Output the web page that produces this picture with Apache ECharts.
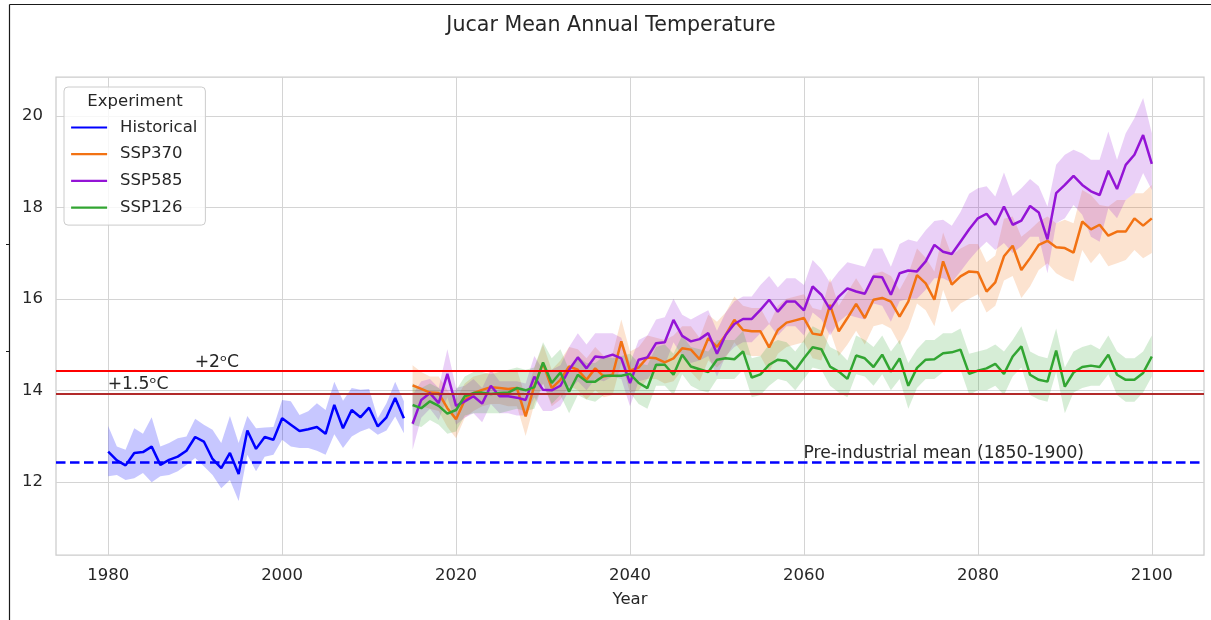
<!DOCTYPE html>
<html><head><meta charset="utf-8">
<script src="https://cdn.jsdelivr.net/npm/echarts@6/dist/echarts.min.js"></script>
<style>html,body{margin:0;padding:0;background:#fff}#c{width:1211px;height:620px}</style>
</head><body><div id="c"></div><script>
// ---------------- data ----------------
const histStart = 1980;
const sspStart = 2015;
const xTicks = [1980, 2000, 2020, 2040, 2060, 2080, 2100];
const yTicks = [12, 14, 16, 18, 20];
const preIndustrial = 12.42;
const refOffsets = [2, 1.5];

const histMean = [12.66,12.47,12.36,12.63,12.65,12.77,12.37,12.48,12.55,12.68,
  12.98,12.88,12.50,12.30,12.63,12.17,13.12,12.72,12.98,12.92,
  13.39,13.25,13.11,13.15,13.20,13.05,13.68,13.17,13.57,13.41,
  13.62,13.21,13.41,13.83,13.39];
const histUpper = [13.22,12.77,12.70,13.17,13.05,13.41,12.77,12.85,12.95,12.99,
  13.38,13.25,13.14,12.85,13.44,12.85,13.44,13.17,13.19,13.20,
  13.79,13.76,13.46,13.54,13.72,13.57,14.19,13.77,14.05,14.01,
  14.03,13.39,13.72,14.19,13.76];
const histLower = [12.12,12.15,12.04,12.08,12.19,11.99,12.12,12.15,12.23,12.37,
  12.52,12.34,12.15,11.86,12.04,11.58,12.59,12.23,12.55,12.59,
  12.92,12.77,12.74,12.74,12.68,12.59,13.04,12.74,12.99,13.10,
  13.17,13.03,13.12,13.43,13.06];

const ssp370Mean = [14.11,14.03,13.95,13.94,13.61,13.37,13.79,13.94,14.01,14.07,
  14.05,14.03,14.05,13.43,14.10,14.59,14.05,14.23,14.52,14.45,
  14.23,14.48,14.30,14.34,15.07,14.43,14.50,14.72,14.70,14.61,
  14.70,14.92,14.89,14.68,15.14,14.95,15.21,15.54,15.32,15.29,
  15.29,14.94,15.32,15.48,15.53,15.58,15.24,15.21,15.87,15.29,
  15.58,15.89,15.58,15.98,16.02,15.94,15.61,15.94,16.52,16.34,
  15.98,16.82,16.31,16.49,16.60,16.58,16.16,16.36,16.93,17.16,
  16.63,16.89,17.18,17.27,17.13,17.11,17.01,17.69,17.52,17.62,
  17.38,17.47,17.47,17.76,17.60,17.76];
const ssp370Upper = [14.55,14.4,14.3,14.3,14.0,13.8,14.15,14.3,14.35,14.4,
  14.4,14.4,14.45,13.85,14.5,15.0,14.45,14.65,14.95,14.9,
  14.7,14.95,14.75,14.8,15.55,14.85,14.95,15.2,15.15,15.1,
  15.2,15.4,15.4,15.15,15.65,15.5,15.7,16.05,15.85,15.8,
  15.8,15.45,15.85,16.0,16.05,16.1,15.8,15.75,16.45,15.85,
  16.15,16.45,16.15,16.55,16.6,16.5,16.2,16.55,17.1,16.9,
  16.6,17.45,16.95,17.1,17.2,17.2,16.8,16.95,17.75,17.8,
  17.36,17.51,17.69,17.8,17.65,17.73,17.65,18.38,18.27,18.05,
  18.02,18.16,18.16,18.31,18.31,18.49];
const ssp370Lower = [13.7,13.65,13.6,13.55,13.2,12.95,13.4,13.55,13.65,13.7,
  13.7,13.65,13.65,13.0,13.7,14.15,13.65,13.8,14.1,14.0,
  13.8,14.0,13.85,13.9,14.6,13.95,14.0,14.25,14.25,14.15,
  14.2,14.45,14.4,14.2,14.65,14.5,14.7,15.05,14.8,14.75,
  14.75,14.4,14.8,14.95,15.0,15.05,14.7,14.65,15.3,14.75,
  15.0,15.3,15.0,15.4,15.45,15.35,15.0,15.35,15.9,15.75,
  15.4,16.2,15.7,15.9,16.0,16.1,15.7,15.85,16.4,16.5,
  16.02,16.27,16.63,16.78,16.56,16.45,16.38,17.07,16.78,17.0,
  16.71,16.78,16.85,17.07,16.89,17.0];

const ssp585Mean = [13.27,13.79,13.94,13.72,14.36,13.66,13.76,13.87,13.71,14.10,
  13.87,13.87,13.84,13.79,14.30,14.01,14.00,14.10,14.45,14.72,
  14.48,14.74,14.72,14.78,14.70,14.16,14.67,14.72,15.03,15.05,
  15.54,15.19,15.07,15.12,15.25,14.80,15.21,15.45,15.56,15.56,
  15.76,15.98,15.72,15.94,15.94,15.75,16.27,16.09,15.77,16.05,
  16.23,16.16,16.11,16.49,16.47,16.09,16.56,16.62,16.60,16.82,
  17.18,17.03,16.98,17.25,17.52,17.76,17.86,17.62,18.02,17.62,
  17.71,18.03,17.89,17.30,18.31,18.49,18.69,18.49,18.35,18.27,
  18.80,18.40,18.93,19.15,19.58,18.95];
const ssp585Upper = [13.9,14.2,14.25,14.05,14.9,14.05,14.1,14.25,14.05,14.45,
  14.2,14.2,14.2,14.15,14.75,14.45,14.45,14.55,14.95,15.25,
  15.0,15.25,15.25,15.25,15.15,14.6,15.1,15.2,15.55,15.6,
  16.0,15.65,15.55,15.65,15.75,15.3,15.7,15.95,16.05,16.05,
  16.3,16.5,16.25,16.45,16.45,16.3,16.85,16.65,16.35,16.6,
  16.8,16.75,16.7,17.1,17.1,16.7,17.2,17.3,17.25,17.5,
  17.7,17.73,17.6,17.9,18.3,18.42,18.46,18.24,18.76,18.25,
  18.42,18.62,18.46,18.02,18.93,19.15,19.26,19.18,19.04,19.04,
  19.66,19.04,19.62,19.95,20.39,19.62];
const ssp585Lower = [12.7,13.4,13.6,13.35,13.85,13.25,13.4,13.5,13.3,13.7,
  13.5,13.5,13.45,13.45,13.85,13.55,13.55,13.65,14.0,14.2,
  14.0,14.25,14.2,14.3,14.25,13.65,14.2,14.25,14.5,14.55,
  15.05,14.75,14.6,14.65,14.75,14.3,14.75,14.95,15.05,15.05,
  15.25,15.45,15.2,15.4,15.4,15.2,15.7,15.55,15.2,15.5,
  15.65,15.6,15.55,15.9,15.85,15.5,15.95,16.0,16.0,16.2,
  16.45,16.45,16.35,16.6,16.85,17.07,17.25,17.07,17.22,17.0,
  17.15,17.36,17.36,16.56,17.65,17.76,18.05,17.84,17.36,17.25,
  17.98,17.76,18.16,18.31,18.75,18.38];

const ssp126Mean = [13.68,13.61,13.76,13.66,13.49,13.57,13.87,13.94,13.95,13.92,
  13.94,13.95,14.05,14.00,14.07,14.61,14.16,14.39,13.97,14.34,
  14.19,14.19,14.32,14.32,14.32,14.36,14.16,14.05,14.56,14.56,
  14.34,14.78,14.52,14.46,14.40,14.67,14.70,14.68,14.85,14.28,
  14.35,14.56,14.67,14.64,14.44,14.70,14.94,14.90,14.52,14.41,
  14.25,14.76,14.70,14.51,14.78,14.41,14.70,14.10,14.49,14.67,
  14.68,14.81,14.83,14.89,14.36,14.43,14.48,14.58,14.36,14.74,
  14.96,14.34,14.23,14.19,14.87,14.08,14.39,14.51,14.54,14.51,
  14.78,14.34,14.23,14.23,14.38,14.74];
const ssp126Upper = [14.15,14.05,14.15,14.05,13.9,14.0,14.3,14.4,14.4,14.35,
  14.4,14.45,14.5,14.45,14.5,15.05,14.7,14.9,14.45,14.75,
  14.6,14.6,14.75,14.7,14.75,14.8,14.6,14.55,14.95,15.0,
  14.8,15.2,14.95,14.9,14.85,15.1,15.1,15.1,15.3,14.7,
  14.75,15.0,15.1,15.05,14.85,15.1,15.4,15.3,14.95,14.85,
  14.65,15.2,15.1,14.95,15.2,14.85,15.1,14.6,14.9,15.1,
  15.1,15.25,15.25,15.35,14.8,14.85,14.9,15.0,14.85,15.1,
  15.4,14.85,14.75,14.7,15.35,14.5,14.85,14.95,15.0,14.9,
  15.2,14.85,14.7,14.7,14.85,15.2];
const ssp126Lower = [13.25,13.2,13.35,13.25,13.05,13.1,13.45,13.5,13.5,13.5,
  13.5,13.55,13.6,13.55,13.6,14.15,13.7,13.9,13.5,13.9,
  13.8,13.75,13.9,13.9,13.9,13.95,13.7,13.6,14.1,14.1,
  13.9,14.35,14.1,14.0,13.95,14.25,14.25,14.25,14.45,13.85,
  13.9,14.1,14.25,14.2,14.0,14.25,14.5,14.45,14.1,13.95,
  13.85,14.35,14.3,14.1,14.35,14.0,14.25,13.6,14.05,14.25,
  14.25,14.4,14.4,14.45,13.9,14.0,14.0,14.1,13.9,14.3,
  14.5,13.9,13.8,13.75,14.4,13.5,13.95,14.05,14.1,14.1,
  14.35,13.9,13.75,13.75,13.95,14.3];

// ---------------- styling ----------------
const FONT = 'DejaVu Sans';
const TXT = '#262626';
const C_HIST = '#0000ff', C_370 = '#f27213', C_585 = '#9414d6', C_126 = '#32a532';

function rgba(hex, a) {
  const n = parseInt(hex.slice(1), 16);
  return 'rgba(' + (n >> 16 & 255) + ',' + (n >> 8 & 255) + ',' + (n & 255) + ',' + a + ')';
}
function pairs(start, vals) { return vals.map((v, i) => [start + i, v]); }
function lineSeries(name, start, vals, color) {
  return { type: 'line', name: name, data: pairs(start, vals), symbol: 'none', z: 2,
    lineStyle: { width: 2.5, color: color }, itemStyle: { color: color }, emphasis: { disabled: true } };
}
function bandSeries(name, start, lo, hi, color, alpha) {
  const data = lo.map((l, i) => [start + i, l, hi[i]]);
  return { type: 'custom', name: name + ' band', z: 1, silent: true, data: data,
    encode: { x: 0, y: [1, 2] },
    renderItem: function (params, api) {
      if (params.dataIndex !== 0) return null;
      const pts = [];
      for (let i = 0; i < data.length; i++) pts.push(api.coord([data[i][0], data[i][2]]));
      for (let i = data.length - 1; i >= 0; i--) pts.push(api.coord([data[i][0], data[i][1]]));
      return { type: 'polygon', shape: { points: pts }, style: { fill: rgba(color, alpha), stroke: null } };
    } };
}

const hist = lineSeries('Historical', histStart, histMean, C_HIST);
hist.markLine = { symbol: ['none', 'none'], silent: true, z: 3, label: { show: false },
  data: [
    { yAxis: preIndustrial + refOffsets[0], lineStyle: { color: '#ff0000', width: 2.2, type: 'solid' } },
    { yAxis: preIndustrial + refOffsets[1], lineStyle: { color: '#b22a2a', width: 2.2, type: 'solid' } },
    { yAxis: preIndustrial, lineStyle: { color: '#0000ff', width: 2.5, type: [9.5, 4.5] } }
  ] };

const annoX = [1990, 1980, 2060];
const annoY = [preIndustrial + refOffsets[0], preIndustrial + refOffsets[1], preIndustrial];
const annoText = ['+2\u1D52C', '+1.5\u1D52C', 'Pre-industrial mean (1850-1900)'];

const annotations = { type: 'scatter', name: 'notes', z: 10, silent: true, symbolSize: 1,
  itemStyle: { color: 'rgba(0,0,0,0)', opacity: 1 },
  data: annoX.map((x, i) => ({ value: [x, annoY[i]], label: { formatter: annoText[i] } })),
  label: { show: true, position: [0, 0], align: 'left', verticalAlign: 'bottom', offset: [0, 0],
    color: TXT, opacity: 1, fontSize: 17.2, fontFamily: FONT } };

const chart = echarts.init(document.getElementById('c'), null, { renderer: 'canvas' });
chart.setOption({
  animation: false,
  backgroundColor: '#ffffff',
  grid: { left: 56, right: 7, top: 77, bottom: 65, show: true, borderColor: '#cccccc', borderWidth: 1.25, backgroundColor: 'transparent' },
  xAxis: { type: 'value', min: 1974, max: 2106,
    axisLine: { show: false }, axisTick: { show: false, customValues: xTicks },
    axisLabel: { customValues: xTicks, formatter: v => String(v), color: TXT, fontSize: 16.5, fontFamily: FONT, margin: 12 },
    splitLine: { show: true, lineStyle: { color: '#d4d4d4', width: 1 } },
    name: 'Year', nameLocation: 'middle', nameGap: 36,
    nameTextStyle: { color: TXT, fontSize: 16.5, fontFamily: FONT } },
  yAxis: { type: 'value', min: 10.4, max: 20.85,
    axisLine: { show: false }, axisTick: { show: false, customValues: yTicks },
    axisLabel: { customValues: yTicks, formatter: v => String(v), color: TXT, fontSize: 16.5, fontFamily: FONT, margin: 13 },
    splitLine: { show: true, lineStyle: { color: '#d4d4d4', width: 1 } } },
  legend: { data: ['Historical', 'SSP370', 'SSP585', 'SSP126'], orient: 'vertical',
    left: 64, top: 87, padding: [32, 8, 9, 6], itemWidth: 36, itemHeight: 16, itemGap: 9.7,
    itemStyle: { opacity: 0 }, lineStyle: { width: 2.2 },
    backgroundColor: 'rgba(255,255,255,0.8)', borderColor: '#cccccc', borderWidth: 1, borderRadius: 4,
    textStyle: { color: TXT, fontSize: 16.5, fontFamily: FONT, padding: [0, 0, 0, 8] }, z: 20 },
  graphic: [
    { type: 'text', z: 100, silent: true, x: 611, y: 26,
      style: { text: 'Jucar Mean Annual Temperature', fill: TXT, font: '20.6px "DejaVu Sans"', textAlign: 'center', textVerticalAlign: 'middle' } },
    { type: 'text', z: 100, silent: true, x: 135, y: 102,
      style: { text: 'Experiment', fill: TXT, font: '16.5px "DejaVu Sans"', textAlign: 'center', textVerticalAlign: 'middle' } },
    { type: 'line', z: 100, silent: true, shape: { x1: 9.5, y1: 4.5, x2: 9.5, y2: 620 }, style: { stroke: '#1a1a1a', lineWidth: 1.2 } },
    { type: 'line', z: 100, silent: true, shape: { x1: 9.5, y1: 4.5, x2: 1211, y2: 4.5 }, style: { stroke: '#1a1a1a', lineWidth: 1.2 } },
    { type: 'line', z: 100, silent: true, shape: { x1: 6, y1: 244.5, x2: 9.5, y2: 244.5 }, style: { stroke: '#1a1a1a', lineWidth: 1 } },
    { type: 'line', z: 100, silent: true, shape: { x1: 6, y1: 351.5, x2: 9.5, y2: 351.5 }, style: { stroke: '#1a1a1a', lineWidth: 1 } }
  ],
  series: [
    bandSeries('Historical', histStart, histLower, histUpper, C_HIST, 0.22),
    bandSeries('SSP370', sspStart, ssp370Lower, ssp370Upper, C_370, 0.2),
    bandSeries('SSP585', sspStart, ssp585Lower, ssp585Upper, C_585, 0.2),
    bandSeries('SSP126', sspStart, ssp126Lower, ssp126Upper, C_126, 0.2),
    hist,
    lineSeries('SSP370', sspStart, ssp370Mean, C_370),
    lineSeries('SSP585', sspStart, ssp585Mean, C_585),
    lineSeries('SSP126', sspStart, ssp126Mean, C_126),
    annotations
  ]
});
</script></body></html>
